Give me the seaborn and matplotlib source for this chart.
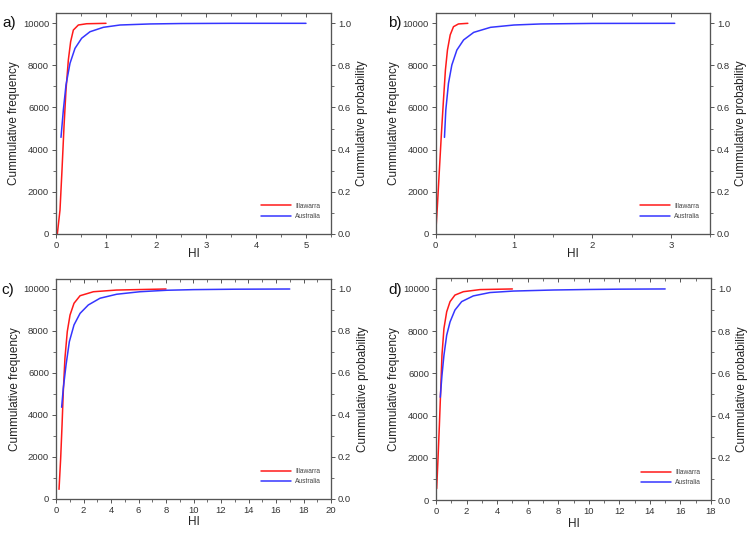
import numpy as np
import pandas as pd
import matplotlib
matplotlib.use("Agg")
import matplotlib.pyplot as plt
from matplotlib.ticker import MultipleLocator, FormatStrFormatter, NullFormatter
import seaborn as sns

sns.set_style("ticks")
plt.rcParams['font.family'] = ['Liberation Sans', 'DejaVu Sans']

# ---------------- data ----------------
series_names = ["Illawarra", "Australia"]
panel_labels = ["a)", "b)", "c)", "d)"]

a_ill_x = [0.027, 0.08, 0.12, 0.16, 0.2, 0.247, 0.293, 0.347, 0.447, 0.613, 1.0]
a_ill_y = [0, 1125, 3030, 5090, 6830, 8260, 9130, 9680, 9920, 9980, 10000]
a_aus_x = [0.1, 0.147, 0.2, 0.28, 0.38, 0.513, 0.68, 0.947, 1.28, 1.88, 2.5, 3.5, 5.0]
a_aus_y = [4580, 5880, 7070, 8100, 8810, 9290, 9600, 9810, 9920, 9970, 9990, 10000, 10000]

b_ill_x = [0.0, 0.021, 0.047, 0.073, 0.099, 0.124, 0.15, 0.185, 0.227, 0.29, 0.41]
b_ill_y = [0, 1280, 3030, 4770, 6350, 7780, 8730, 9450, 9840, 9970, 10000]
b_aus_x = [0.112, 0.129, 0.163, 0.206, 0.27, 0.356, 0.485, 0.70, 1.0, 1.34, 2.0, 3.05]
b_aus_y = [4580, 5880, 7150, 8020, 8730, 9210, 9570, 9810, 9920, 9970, 9995, 10000]

c_ill_x = [0.22, 0.34, 0.44, 0.53, 0.65, 0.82, 1.02, 1.31, 1.75, 2.72, 4.41, 8.0]
c_ill_y = [460, 1940, 3520, 5110, 6700, 7970, 8760, 9320, 9680, 9870, 9950, 10000]
c_aus_x = [0.41, 0.53, 0.73, 0.97, 1.31, 1.75, 2.35, 3.2, 4.41, 6.1, 8.05, 10.0, 13.0, 17.0]
c_aus_y = [4370, 5270, 6380, 7490, 8290, 8840, 9240, 9560, 9750, 9870, 9940, 9970, 9990, 10000]

d_ill_x = [0.044, 0.13, 0.22, 0.31, 0.39, 0.52, 0.70, 0.92, 1.24, 1.79, 2.88, 5.0]
d_ill_y = [540, 1940, 3520, 5250, 6860, 8130, 8920, 9400, 9710, 9870, 9970, 10000]
d_aus_x = [0.28, 0.39, 0.52, 0.70, 0.92, 1.24, 1.68, 2.44, 3.53, 5.06, 7.68, 10.0, 12.0, 15.0]
d_aus_y = [4870, 5900, 6860, 7810, 8440, 9000, 9400, 9670, 9830, 9900, 9950, 9975, 9990, 10000]

x_limits = [5.5, 3.5, 20, 18]
x_major = [1, 1, 2, 2]
x_minor = [0.5, 0.5, 1, 1]

panels = [
    (a_ill_x, a_ill_y, a_aus_x, a_aus_y),
    (b_ill_x, b_ill_y, b_aus_x, b_aus_y),
    (c_ill_x, c_ill_y, c_aus_x, c_aus_y),
    (d_ill_x, d_ill_y, d_aus_x, d_aus_y),
]

# ---------------- layout (figure pixels 747 x 534) ----------------
W, H = 747, 534
boxes = [  # left, top, right, bottom in px
    (56.0, 12.8, 331.0, 233.7),
    (435.7, 12.8, 710.0, 233.7),
    (56.0, 278.5, 331.0, 499.0),
    (436.0, 278.4, 711.0, 500.0),
]
ylab_x = [-0.132, -0.130, -0.128, -0.131]
ylab2_x = [1.092, 1.091, 1.094, 1.09]
xlab_y = [-0.065, -0.065, -0.077, -0.082]
plabel_pos = [(2, 23.5), (388, 23), (1, 290), (388, 290)]

palette = {"Illawarra": "#ff1a1a", "Australia": "#3535ff"}
spine_col = "#555555"
text_col = "#333333"
tick_fs = 6.8

fig = plt.figure(figsize=(W / 100, H / 100), dpi=100)

for i, (ix, iy, ax_, ay_) in enumerate(panels):
    l, t, r, b = boxes[i]
    ax = fig.add_axes([l / W, 1 - b / H, (r - l) / W, (b - t) / H])
    df = pd.DataFrame({
        "HI": list(ix) + list(ax_),
        "freq": list(iy) + list(ay_),
        "region": [series_names[0]] * len(ix) + [series_names[1]] * len(ax_),
    })
    sns.lineplot(data=df, x="HI", y="freq", hue="region", palette=palette,
                 estimator=None, sort=False, linewidth=1.1, ax=ax)
    ax.set_xlim(0, x_limits[i])
    ax.set_ylim(0, 10500)
    ax.xaxis.set_major_locator(MultipleLocator(x_major[i]))
    ax.xaxis.set_minor_locator(MultipleLocator(x_minor[i]))
    ax.yaxis.set_major_locator(MultipleLocator(2000))
    ax.yaxis.set_minor_locator(MultipleLocator(1000))
    ax.tick_params(which="major", direction="out", length=3, width=0.7,
                   colors=spine_col, labelcolor=text_col, labelsize=tick_fs, pad=2)
    ax.tick_params(which="minor", direction="out", length=2, width=0.6, colors=spine_col)
    for s in ax.spines.values():
        s.set_color(spine_col)
        s.set_linewidth(0.8)
    ax.set_xlabel("HI", fontsize=8.5, color="#222222")
    ax.set_ylabel("Cummulative frequency", fontsize=8.5, color="#222222")
    ax.yaxis.set_label_coords(ylab_x[i], 0.5)
    ax.xaxis.set_label_coords(0.5, xlab_y[i])

    leg = ax.legend(loc="lower right", frameon=False, fontsize=4.8,
                    handlelength=4.5, handletextpad=0.6, labelspacing=0.5,
                    bbox_to_anchor=(0.985, 0.035), title=None)
    for txt in leg.get_texts():
        txt.set_color("#444444")

    # top ticks (inward, no labels)
    axt = ax.twiny()
    axt.set_xlim(0, x_limits[i])
    axt.xaxis.set_major_locator(MultipleLocator(x_major[i]))
    axt.xaxis.set_minor_locator(MultipleLocator(x_minor[i]))
    axt.xaxis.set_major_formatter(NullFormatter())
    axt.tick_params(axis="x", which="major", direction="in", length=3, width=0.7,
                    colors=spine_col, labeltop=False)
    axt.tick_params(axis="x", which="minor", direction="in", length=2, width=0.6,
                    colors=spine_col)
    axt.tick_params(axis="y", left=False, right=False, labelleft=False, labelright=False)
    for s in axt.spines.values():
        s.set_color(spine_col)
        s.set_linewidth(0.8)

    # right probability axis
    ax2 = ax.twinx()
    ax2.set_ylim(0, 1.05)
    ax2.yaxis.set_major_locator(MultipleLocator(0.2))
    ax2.yaxis.set_minor_locator(MultipleLocator(0.1))
    ax2.yaxis.set_major_formatter(FormatStrFormatter("%.1f"))
    ax2.tick_params(which="major", direction="out", length=3, width=0.7,
                    colors=spine_col, labelcolor=text_col, labelsize=tick_fs, pad=2)
    ax2.tick_params(which="minor", direction="out", length=2, width=0.6, colors=spine_col)
    for s in ax2.spines.values():
        s.set_color(spine_col)
        s.set_linewidth(0.8)
    ax2.set_ylabel("Cummulative probability", fontsize=8.5, color="#222222")
    ax2.yaxis.set_label_coords(ylab2_x[i], 0.5)

    px, py = plabel_pos[i]
    fig.text(px / W, 1 - py / H, panel_labels[i], fontsize=11,
             ha="left", va="center", color="#111111")

fig.savefig("out.png", dpi=100)
